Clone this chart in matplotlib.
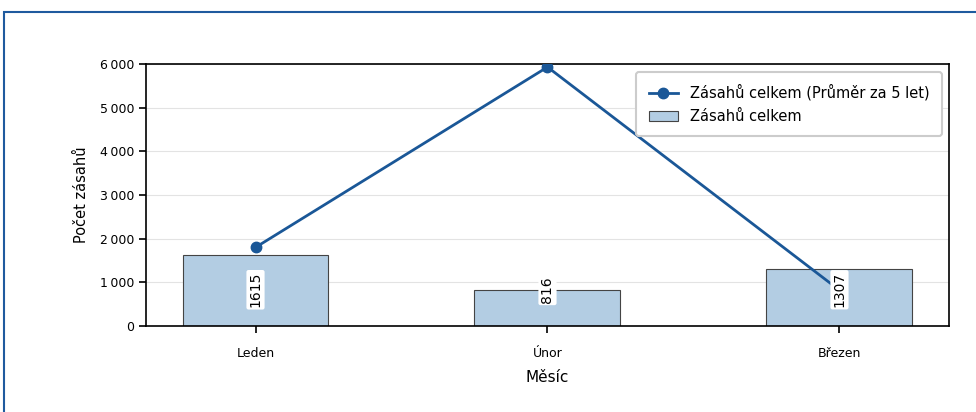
import matplotlib
matplotlib.use("Agg")
import matplotlib.pyplot as plt
from matplotlib.patches import Rectangle
from matplotlib.ticker import FuncFormatter

# data
mesice = ["Leden", "Únor", "Březen"]
zasahy_celkem = [1615, 816, 1307]
prumer_5_let = [1800, 5930, 820]

bar_color = "#b3cde3"
line_color = "#1a5797"
frame_color = "#1f5a9e"

fig = plt.figure(figsize=(9.76, 4.12), dpi=100)
ax = fig.add_axes([0.1496, 0.2087, 0.8227, 0.636])

x = list(range(len(mesice)))
bars = ax.bar(x, zasahy_celkem, width=0.5, color=bar_color,
              edgecolor="#444444", linewidth=0.8, zorder=2,
              label="Zásahů celkem")
line, = ax.plot(x, prumer_5_let, color=line_color, linewidth=2,
                marker="o", markersize=7.5, zorder=3,
                label="Zásahů celkem (Průměr za 5 let)")

# popisky hodnot ve sloupcích
for xi, v in zip(x, zasahy_celkem):
    ax.text(xi, 830, str(v), rotation=90, ha="center", va="center",
            fontsize=10, zorder=5,
            bbox=dict(boxstyle="round,pad=0.15", fc="white", ec="none"))

ax.set_xlim(-0.375, 2.375)
ax.set_ylim(0, 6000)
ax.set_yticks(range(0, 6001, 1000))
ax.yaxis.set_major_formatter(FuncFormatter(lambda v, p: f"{int(v):,}".replace(",", "\u2009")))
ax.set_xticks(x)
ax.set_xticklabels(mesice)

ax.grid(axis="y", color="#e3e3e3", linewidth=0.8, zorder=0)
ax.set_axisbelow(True)
for s in ax.spines.values():
    s.set_linewidth(1.2)
ax.tick_params(axis="both", length=5, width=1.2, labelsize=9)
ax.xaxis.set_tick_params(pad=10)

ax.set_ylabel("Počet zásahů", fontsize=10.5, labelpad=8)
ax.set_xlabel("Měsíc", fontsize=11, labelpad=7)

leg = ax.legend(handles=[line, bars], loc="upper right", fontsize=10.5,
                frameon=True, fancybox=True, framealpha=1,
                edgecolor="#cccccc", borderpad=0.85, labelspacing=0.55,
                bbox_to_anchor=(1.0, 0.998))
leg.get_frame().set_linewidth(1.5)

# rámeček kolem celého obrázku
fig.patches.append(Rectangle((4 / 976, -0.1), 1.1, 1.1 - 12 / 412,
                             transform=fig.transFigure, fill=False,
                             edgecolor=frame_color, linewidth=1.5))

fig.savefig("out.png", dpi=100)
